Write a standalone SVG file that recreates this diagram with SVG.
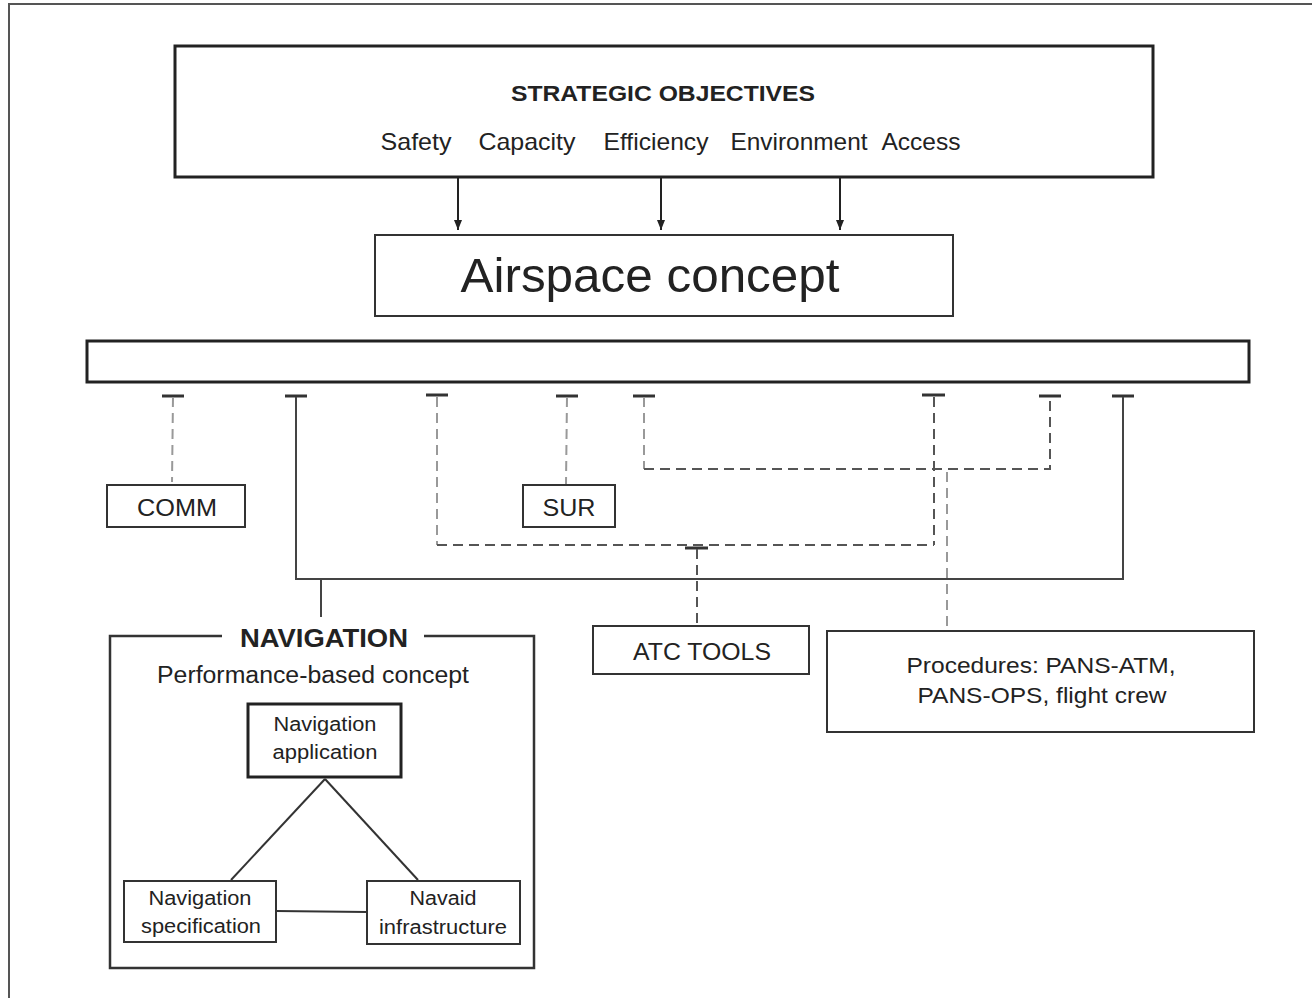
<svg xmlns="http://www.w3.org/2000/svg" width="1312" height="998" viewBox="0 0 1312 998">
<defs>
<style>
.box{fill:#fff;stroke:#333;stroke-width:2}
.thick{fill:#fff;stroke:#222;stroke-width:3}
.t{font-family:"Liberation Sans",Arial,sans-serif;fill:#222;text-anchor:middle}
.b{font-weight:bold}
.solid{fill:none;stroke:#444;stroke-width:2}
.arrow{fill:none;stroke:#222;stroke-width:2}
.dash{fill:none;stroke:#555;stroke-width:2;stroke-dasharray:10,6}
.dashl{fill:none;stroke:#999;stroke-width:2;stroke-dasharray:10,6}
.tick{stroke:#333;stroke-width:3}
.thin{fill:none;stroke:#333;stroke-width:2}
</style>
<marker id="arr" markerWidth="10" markerHeight="8" refX="10" refY="4" orient="auto" markerUnits="userSpaceOnUse" viewBox="0 0 10 8">
<path d="M0,0 L10,4 L0,8 Z" fill="#222"/>
</marker>
</defs>
<rect width="1312" height="998" fill="#fff"/>
<path d="M9,998 L9,4 L1312,4" fill="none" stroke="#555" stroke-width="2"/>

<g id="strategic">
<rect class="thick" x="175" y="46" width="978" height="131"/>
<text class="t b" x="663" y="101" font-size="22" textLength="304" lengthAdjust="spacingAndGlyphs">STRATEGIC OBJECTIVES</text>
<text class="t" x="416" y="150" font-size="24" textLength="71" lengthAdjust="spacingAndGlyphs">Safety</text>
<text class="t" x="527" y="150" font-size="24" textLength="97" lengthAdjust="spacingAndGlyphs">Capacity</text>
<text class="t" x="656" y="150" font-size="24" textLength="105" lengthAdjust="spacingAndGlyphs">Efficiency</text>
<text class="t" x="799" y="150" font-size="24" textLength="137" lengthAdjust="spacingAndGlyphs">Environment</text>
<text class="t" x="921" y="150" font-size="24" textLength="79" lengthAdjust="spacingAndGlyphs">Access</text>
</g>

<g id="airspace">
<rect class="box" x="375" y="235" width="578" height="81"/>
<text class="t" x="650" y="292" font-size="48" textLength="379" lengthAdjust="spacingAndGlyphs">Airspace concept</text>
</g>

<g id="bar">
<rect class="thick" x="87" y="341" width="1162" height="41"/>
</g>

<g id="connectors">
<line class="arrow" x1="458" y1="177" x2="458" y2="230" marker-end="url(#arr)"/>
<line class="arrow" x1="661" y1="177" x2="661" y2="230" marker-end="url(#arr)"/>
<line class="arrow" x1="840" y1="177" x2="840" y2="230" marker-end="url(#arr)"/>
<line class="tick" x1="162" y1="396" x2="184" y2="396"/>
<line class="tick" x1="285" y1="396" x2="307" y2="396"/>
<line class="tick" x1="426" y1="395" x2="448" y2="395"/>
<line class="tick" x1="556" y1="396" x2="578" y2="396"/>
<line class="tick" x1="633" y1="396" x2="655" y2="396"/>
<line class="tick" x1="922" y1="395" x2="945" y2="395"/>
<line class="tick" x1="1039" y1="396" x2="1061" y2="396"/>
<line class="tick" x1="1112" y1="396" x2="1134" y2="396"/>
<line class="dashl" x1="173" y1="397" x2="172" y2="482"/>
<line class="dashl" x1="567" y1="397" x2="566" y2="484"/>
<polyline class="solid" points="296,397 296,579 1123,579 1123,397"/>
<line class="solid" x1="321" y1="579" x2="321" y2="617"/>
<polyline class="dashl" points="437,397 437,545"/>
<polyline class="dash" points="437,545 934,545"/>
<polyline class="dash" points="934,397 934,545"/>
<line class="tick" x1="685" y1="548" x2="708" y2="548" stroke="#888"/>
<line class="dash" x1="697" y1="549" x2="697" y2="626"/>
<polyline class="dashl" points="644,397 644,469"/>
<polyline class="dash" points="644,469 1050,469 1050,397"/>
<line class="dashl" x1="947" y1="472" x2="947" y2="630"/>
<line class="thin" x1="325" y1="779" x2="231" y2="880"/>
<line class="thin" x1="325" y1="779" x2="418" y2="880"/>
<line class="thin" x1="276" y1="911" x2="367" y2="912" stroke="#777"/>
</g>

<g id="comm">
<rect class="box" x="107" y="485" width="138" height="42"/>
<text class="t" x="177" y="516" font-size="23" textLength="80" lengthAdjust="spacingAndGlyphs">COMM</text>
</g>

<g id="sur">
<rect class="box" x="523" y="485" width="92" height="42"/>
<text class="t" x="569" y="516" font-size="23" textLength="53" lengthAdjust="spacingAndGlyphs">SUR</text>
</g>

<g id="atc">
<rect class="box" x="593" y="626" width="216" height="48"/>
<text class="t" x="702" y="660" font-size="23" textLength="138" lengthAdjust="spacingAndGlyphs">ATC TOOLS</text>
</g>

<g id="procedures">
<rect class="box" x="827" y="631" width="427" height="101"/>
<text class="t" x="1041" y="673" font-size="22" textLength="269" lengthAdjust="spacingAndGlyphs">Procedures: PANS-ATM,</text>
<text class="t" x="1042" y="703" font-size="22" textLength="249" lengthAdjust="spacingAndGlyphs">PANS-OPS, flight crew</text>
</g>

<g id="navigation">
<path d="M222,636 L110,636 L110,968 L534,968 L534,636 L424,636" fill="none" stroke="#333" stroke-width="2.5"/>
<text class="t b" x="324" y="647" font-size="25" textLength="168" lengthAdjust="spacingAndGlyphs">NAVIGATION</text>
<text class="t" x="313" y="683" font-size="23" textLength="312" lengthAdjust="spacingAndGlyphs">Performance-based concept</text>
</g>

<g id="nav-application">
<rect class="thick" x="248" y="704" width="153" height="73"/>
<text class="t" x="325" y="731" font-size="20" textLength="103" lengthAdjust="spacingAndGlyphs">Navigation</text>
<text class="t" x="325" y="759" font-size="20" textLength="105" lengthAdjust="spacingAndGlyphs">application</text>
</g>

<g id="nav-specification">
<rect class="box" x="124" y="881" width="152" height="61"/>
<text class="t" x="200" y="905" font-size="20" textLength="103" lengthAdjust="spacingAndGlyphs">Navigation</text>
<text class="t" x="201" y="933" font-size="20" textLength="120" lengthAdjust="spacingAndGlyphs">specification</text>
</g>

<g id="navaid-infrastructure">
<rect class="box" x="367" y="881" width="153" height="63"/>
<text class="t" x="443" y="905" font-size="20" textLength="67" lengthAdjust="spacingAndGlyphs">Navaid</text>
<text class="t" x="443" y="934" font-size="20" textLength="128" lengthAdjust="spacingAndGlyphs">infrastructure</text>
</g>
</svg>
